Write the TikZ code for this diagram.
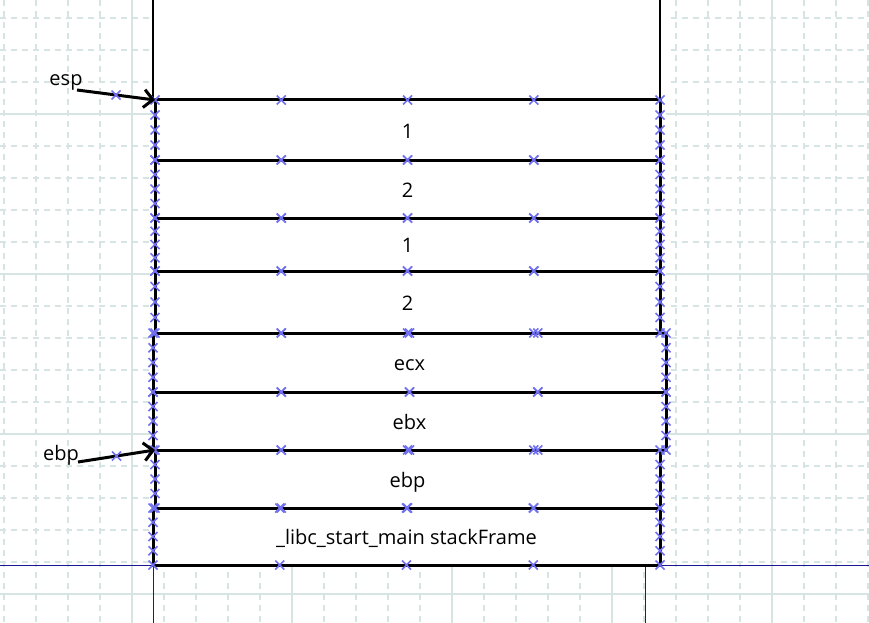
\documentclass[tikz,border=0pt]{standalone}
\usepackage{fontspec}
\setmainfont{Open Sans}
\usetikzlibrary{arrows.meta,calc,fit}
\definecolor{gridline}{RGB}{214,228,228}
\definecolor{guideblue}{RGB}{24,24,150}
\definecolor{markblue}{RGB}{112,112,240}
\tikzset{
  gridminor/.style={gridline,line width=1.2pt,dash pattern=on 6pt off 5pt},
  gridmajor/.style={gridline,line width=1.4pt},
  guide/.style={guideblue,line width=1pt},
  framebox/.style={draw=black,line width=2.4pt},
  cellbox/.style={draw=black,line width=3pt,inner sep=0pt,outer sep=0pt},
  celltext/.style={font=\fontsize{20}{24}\selectfont,inner sep=0pt,anchor=base},
  ptr/.style={-{Straight Barb[length=9pt,width=18pt]},line width=3pt},
  ptrlbl/.style={font=\fontsize{20}{24}\selectfont,inner sep=0pt,anchor=base},
  selmark/.style={markblue,line width=1.5pt},
  selx/.pic={\draw[selmark] (-4.5,-4.5) -- (4.5,4.5) (-4.5,4.5) -- (4.5,-4.5);},
}

\begin{document}
\begin{tikzpicture}[x=1pt,y=-1pt]
  \useasboundingbox (0,0) rectangle (869,623);
  % background grid
  \foreach \gx in {4,36,...,868} \draw[gridminor] (\gx,0) -- (\gx,623);
  \foreach \gy in {18,50,...,610} \draw[gridminor] (0,\gy) -- (869,\gy);
  \foreach \gx in {132,292,...,772} \draw[gridmajor] (\gx,0) -- (\gx,623);
  \foreach \gy in {114,274,434,594} \draw[gridmajor] (0,\gy) -- (869,\gy);
  % guides
  \draw[guide] (0,565) -- (869,565);
  \draw[guide] (153,565) -- (153,623);
  \draw[guide] (645,565) -- (645,623);
  % stack body
  \fill[white] (153,-2) rectangle (666,565);
  \draw[framebox] (153,-5) -- (153,100) (660,-5) -- (660,100);
  \foreach \i/\xl/\xr/\yt/\yb/\lab in {
      1/155/660/100/160/1, 2/155/660/160/218/2, 3/155/660/218/271/1,
      4/155/660/271/333/2, 5/153/666/333/392/ecx, 6/153/666/392/450/ebx,
      7/155/660/450/508/ebp, 8/153/660/508/565/{\_libc\_start\_main stackFrame}} {
    \coordinate (nw\i) at (\xl,\yt);
    \coordinate (se\i) at (\xr,\yb);
    \node[cellbox,fit=(nw\i)(se\i)] (c\i) {};
    \node[celltext] (t\i) at ($(c\i.center)+(0,8)$) {\lab};
  }
  % selection marks
  \foreach \xl/\xr/\yt/\yb in {155/660/100/160, 155/660/160/218, 155/660/218/271,
      155/660/271/333, 153/666/333/392, 153/666/392/450, 155/660/450/508,
      153/660/508/565} {
    \foreach \k in {0,...,4} {
      \pic at ({\xl+\k*(\xr-\xl)/4},\yt) {selx};
      \pic at ({\xl+\k*(\xr-\xl)/4},\yb) {selx};
    }
    \foreach \k in {1,2,3} {
      \pic at (\xl,{\yt+\k*(\yb-\yt)/4}) {selx};
      \pic at (\xr,{\yt+\k*(\yb-\yt)/4}) {selx};
    }
  }
  % pointers
  \node[ptrlbl] (esplbl) at (66,86) {esp};
  \node[ptrlbl] (ebplbl) at (61,460) {ebp};
  \coordinate (espfrom) at (77,90);
  \coordinate (ebpfrom) at (78,462);
  \draw[ptr] (espfrom) -- (c1.north west);
  \draw[ptr] (ebpfrom) -- (c7.north west);
  \pic at ($(espfrom)!0.5!(c1.north west)$) {selx};
  \pic at ($(ebpfrom)!0.5!(c7.north west)$) {selx};
\end{tikzpicture}
\end{document}
